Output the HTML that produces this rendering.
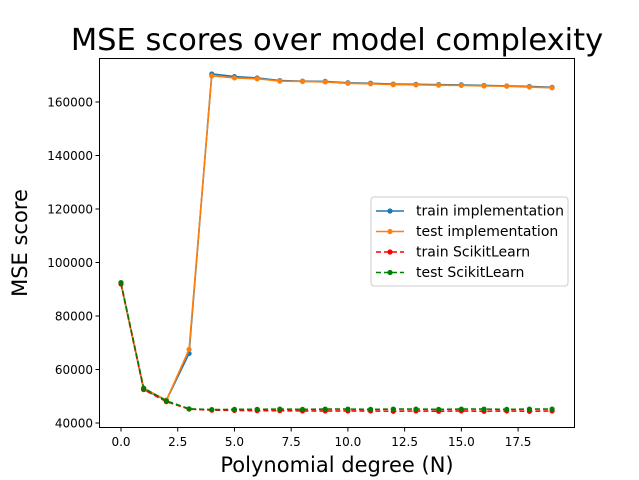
<!DOCTYPE html>
<html><head><meta charset="utf-8"><style>body{margin:0;background:#fff}svg{display:block;font-family:"DejaVu Sans","Liberation Sans",sans-serif}</style></head>
<body>
<svg id="c" width="639" height="480">
<rect x="0" y="0" width="639" height="480" fill="#fff"/>
<text x="337" y="50" font-size="30.5" text-anchor="middle">MSE scores over model complexity</text>
<text x="337" y="472" font-size="21" text-anchor="middle">Polynomial degree (N)</text>
<text transform="translate(27,243) rotate(-90)" font-size="21" text-anchor="middle">MSE score</text>
<g id="ticks"></g><g id="series"></g>
<rect x="99.5" y="58.5" width="475" height="369" fill="none" stroke="#000" stroke-width="1"/>
<g>
<rect x="371" y="197" width="197" height="89" rx="3" fill="#fff" stroke="#ccc"/>
<g id="leg"></g></g>
</svg>
<script>
const degrees=[0,1,2,3,4,5,6,7,8,9,10,11,12,13,14,15,16,17,18,19];
const trainImpl=[92000,52500,48500,66000,170500,169500,169000,168000,167800,167700,167200,167000,166700,166600,166500,166400,166200,166000,165800,165500];
const testImpl=[92000,53000,48500,67500,169800,169000,168700,167800,167700,167500,167000,166800,166500,166400,166300,166200,166000,165900,165600,165300];
const trainSk=[92000,52500,48000,45200,44800,44700,44600,44600,44500,44500,44500,44500,44400,44500,44400,44500,44400,44500,44400,44500];
const testSk=[92500,53000,48300,45300,45000,45100,45100,45200,45100,45200,45200,45100,45200,45200,45100,45200,45200,45100,45200,45200];
const xTicks=[0,2.5,5,7.5,10,12.5,15,17.5];
const yTicks=[40000,60000,80000,100000,120000,140000,160000];
const sx=v=>121+v*22.69, sy=v=>423-(v-40000)/20000*53.5;
const NS="http://www.w3.org/2000/svg";
function mk(p,t,a){const e=document.createElementNS(NS,t);for(const k in a)e.setAttribute(k,a[k]);p.appendChild(e);return e;}
const tg=document.getElementById('ticks');
xTicks.forEach(v=>{const x=sx(v);
const l=mk(tg,'line',{x1:x,x2:x,y1:427.5,y2:431.5,stroke:'#000'});


const t=mk(tg,'text',{x:x,y:446,'font-size':12,'text-anchor':'middle'});t.textContent=v.toFixed(1);

});
yTicks.forEach(v=>{const y=sy(v);
const l=mk(tg,'line',{x1:95.5,x2:99.5,y1:y,y2:y,stroke:'#000'});


const t=mk(tg,'text',{x:93,y:y+4.5,'font-size':12,'text-anchor':'end'});t.textContent=v;

});
const sg=document.getElementById('series');
const S=[[trainImpl,'#1f77b4',null,'train-implementation'],[testImpl,'#ff7f0e',null,'test-implementation'],[trainSk,'#ff0000','5,3','train-scikitlearn'],[testSk,'#008000','5,3','test-scikitlearn']];
S.forEach(([d,c,da,n])=>{const g=mk(sg,'g',{});


const a={points:d.map((v,i)=>sx(degrees[i])+','+sy(v)).join(' '),fill:'none',stroke:c,'stroke-width':1.6};if(da)a['stroke-dasharray']=da;
mk(g,'polyline',a);
d.forEach((v,i)=>{const p=mk(g,'circle',{cx:sx(degrees[i]),cy:sy(v),r:2.6,fill:c});

});});
const lg=document.getElementById('leg');
const labels=['train implementation','test implementation','train ScikitLearn','test ScikitLearn'];
S.forEach(([d,c,da,n],i)=>{const y=211+i*20.5;const g=mk(lg,'g',{});


const a={x1:376,x2:404,y1:y,y2:y,stroke:c,'stroke-width':1.6};if(da)a['stroke-dasharray']=da;mk(g,'line',a);
mk(g,'circle',{cx:390,cy:y,r:2.6,fill:c});
const t=mk(g,'text',{x:416,y:y+4.5,'font-size':14});t.textContent=labels[i];});
</script>
</body></html>
